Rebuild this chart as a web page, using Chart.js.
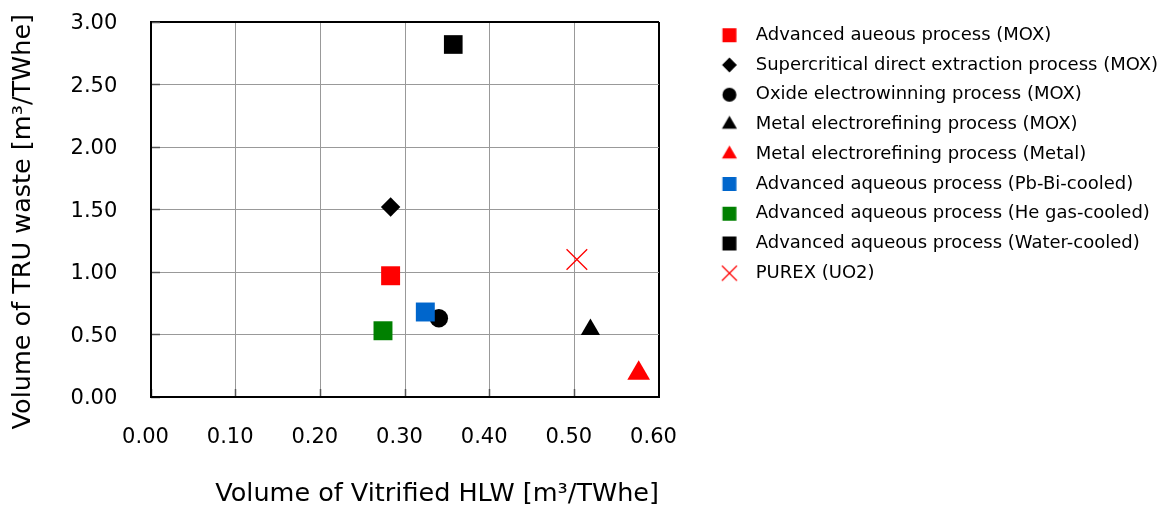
<!DOCTYPE html>
<html>
<head>
<meta charset="utf-8">
<script src="https://cdn.jsdelivr.net/npm/chart.js@4.4.0/dist/chart.umd.min.js"></script>
<style>
  html, body { margin: 0; padding: 0; background: #ffffff; }
  #wrap { width: 1174px; height: 508px; position: relative; }
  canvas { display: block; }
</style>
</head>
<body>
<div id="wrap"><canvas id="chart" width="1174" height="508"></canvas></div>
<script>
// ---- data ----
const seriesNames = [
  'Advanced aueous process (MOX)',
  'Supercritical direct extraction process (MOX)',
  'Oxide electrowinning process (MOX)',
  'Metal electrorefining process (MOX)',
  'Metal electrorefining process (Metal)',
  'Advanced aqueous process (Pb-Bi-cooled)',
  'Advanced aqueous process (He gas-cooled)',
  'Advanced aqueous process (Water-cooled)',
  'PUREX (UO2)'
];
const hlwVolume = [0.283, 0.283, 0.340, 0.519, 0.576, 0.324, 0.274, 0.357, 0.503];
const truVolume = [0.97, 1.52, 0.63, 0.54, 0.19, 0.68, 0.53, 2.82, 1.10];
const seriesColors = ['#ff0000', '#000000', '#000000', '#000000', '#ff0000', '#0066cc', '#008000', '#000000', '#ff0000'];
const markerStyles = ['rect', 'rectRot', 'circle', 'triangle', 'triangle', 'rect', 'rect', 'rect', 'crossRot'];
const markerRadius = [13.4, 9.7, 9.2, 11.1, 13.1, 13.4, 13.4, 13.2, 14.6];
const legendRadius = [9.9, 7.4, 7.0, 8.7, 8.7, 9.9, 9.9, 9.9, 10.6];
const xTickLabels = ['0.00', '0.10', '0.20', '0.30', '0.40', '0.50', '0.60'];
const yTickLabels = ['0.00', '0.50', '1.00', '1.50', '2.00', '2.50', '3.00'];
const xTitle = 'Volume of Vitrified HLW [m³/TWhe]';
const yTitle = 'Volume of TRU waste [m³/TWhe]   ';

// ---- legend icons (drawn with Chart.js' own point routine) ----
function makeIcon(i) {
  const cv = document.createElement('canvas');
  cv.width = 80; cv.height = 24;
  const g = cv.getContext('2d');
  g.fillStyle = seriesColors[i];
  g.strokeStyle = seriesColors[i];
  g.lineWidth = markerStyles[i] === 'crossRot' ? 1.2 : 0;
  const opts = { pointStyle: markerStyles[i], radius: legendRadius[i], rotation: 0,
                 borderWidth: markerStyles[i] === 'crossRot' ? 1.2 : 0 };
  Chart.helpers.drawPoint(g, opts, 60.7, 12);
  return cv;
}
const legendIcons = seriesNames.map((_, i) => makeIcon(i));

const legendFont = { family: '"DejaVu Sans", sans-serif', size: 18 };
const legendPad = 11.75, legendBox = 76, legendW = 515;
const mctx = document.createElement('canvas').getContext('2d');
mctx.font = legendFont.size + 'px ' + legendFont.family;
const maxTextW = Math.max(...seriesNames.map(s => mctx.measureText(s).width));
const legendNatural = legendPad + legendBox + legendFont.size / 2 + maxTextW + 10;
const rightPad = Math.max(0, legendW - legendNatural);

const datasets = seriesNames.map((name, i) => ({
  label: name,
  data: [{ x: hlwVolume[i], y: truVolume[i] }],
  xAxisID: 'x',
  yAxisID: 'y',
  pointStyle: markerStyles[i],
  pointRadius: markerRadius[i],
  pointHoverRadius: markerRadius[i],
  backgroundColor: markerStyles[i] === 'crossRot' ? 'rgba(0,0,0,0)' : seriesColors[i],
  borderColor: seriesColors[i],
  borderWidth: markerStyles[i] === 'crossRot' ? 1.3 : 0,
  pointBorderWidth: markerStyles[i] === 'crossRot' ? 1.3 : 0,
  order: i === 5 ? -1 : 0
}));

const tickFont = { family: '"DejaVu Sans", sans-serif', size: 21 };
const titleFont = { family: '"DejaVu Sans", sans-serif', size: 25.5, lineHeight: 1 };
const isLast = (v, last) => Math.abs(v - last) < 1e-6;

new Chart(document.getElementById('chart'), {
  type: 'scatter',
  data: { datasets },
  options: {
    responsive: false,
    animation: false,
    devicePixelRatio: 1,
    layout: { padding: { top: 14.5, right: rightPad, bottom: 0, left: 0 } },
    plugins: {
      tooltip: { enabled: false },
      legend: {
        position: 'right',
        align: 'start',
        maxWidth: legendW,
        labels: {
          usePointStyle: true,
          pointStyleWidth: legendBox,
          padding: legendPad,
          color: '#000',
          font: legendFont,
          sort: (a, b) => a.datasetIndex - b.datasetIndex,
          generateLabels(chart) {
            const items = Chart.defaults.plugins.legend.labels.generateLabels(chart);
            items.forEach(it => { it.pointStyle = legendIcons[it.datasetIndex]; });
            return items;
          }
        }
      }
    },
    scales: {
      x2: {
        type: 'linear', position: 'top', display: true,
        grid: { display: false, drawTicks: false },
        border: { display: false },
        ticks: { display: false },
        afterFit(s) { s.height = 7.5; }
      },
      x: {
        type: 'linear', position: 'bottom', min: 0, max: 0.6,
        ticks: {
          stepSize: 0.1, color: '#000', font: tickFont, padding: 36.3, labelOffset: -5.5,
          maxRotation: 0, autoSkip: false,
          callback: (v) => xTickLabels[Math.round(v * 10)]
        },
        grid: {
          color: c => (c.tick && isLast(c.tick.value, 0.6)) ? '#000' : '#999999',
          lineWidth: c => (c.tick && isLast(c.tick.value, 0.6)) ? 2 : 1,
          tickColor: c => (c.tick && isLast(c.tick.value, 0.6)) ? '#000' : '#555555',
          tickLength: -8,
          tickWidth: 1.5
        },
        border: { display: true, color: '#000', width: 2 },
        title: { display: true, text: xTitle, color: '#000', font: titleFont, align: 'end', padding: { top: 0, bottom: 0.5 } },
        afterFit(s) { s.height = 111; }
      },
      y: {
        type: 'linear', position: 'left', min: 0, max: 3,
        ticks: {
          stepSize: 0.5, color: '#000', font: tickFont, padding: 8, labelOffset: 2,
          callback: (v) => yTickLabels[Math.round(v * 2)]
        },
        grid: {
          color: c => (c.tick && isLast(c.tick.value, 3)) ? '#000' : '#999999',
          lineWidth: c => (c.tick && isLast(c.tick.value, 3)) ? 2 : 1,
          tickColor: 'rgba(0,0,0,0)',
          tickLength: 25.7
        },
        border: { display: true, color: '#000', width: 2 },
        title: { display: true, text: yTitle, color: '#000', font: titleFont, padding: { top: 10.5, bottom: 0 } },
        afterFit(s) { s.width = 151; }
      },
      yIn: {
        type: 'linear', position: 'left', min: 0, max: 3, weight: -1, display: true,
        ticks: { display: false, stepSize: 0.5 },
        grid: { display: true, drawOnChartArea: false, drawTicks: true, tickLength: -9,
                tickColor: '#555555', tickWidth: 1.5 },
        border: { display: false },
        afterFit(s) { s.width = 0; }
      }
    }
  }
});
</script>
</body>
</html>
